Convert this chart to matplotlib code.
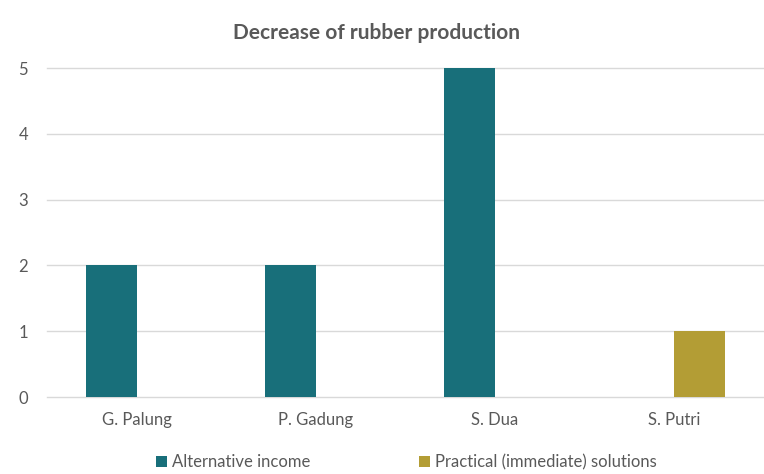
import matplotlib
matplotlib.use("Agg")
import matplotlib.pyplot as plt
import numpy as np

plt.rcParams['font.family'] = ['Lato', 'DejaVu Sans']

categories = ["G. Palung", "P. Gadung", "S. Dua", "S. Putri"]
series_names = ["Alternative income", "Practical (immediate) solutions"]
alt_income = [2, 2, 5, 0]
practical = [0, 0, 0, 1]
yticks = [0, 1, 2, 3, 4, 5]

colors = ["#186F7A", "#B39D35"]

fig = plt.figure(figsize=(7.64, 4.74), dpi=100)
ax = fig.add_axes([0.062, 0.1624, 0.937, 0.694])

x = np.arange(len(categories))
w = 1 / 3.5
ax.bar(x - w / 2, alt_income, w, color=colors[0], label=series_names[0], zorder=3)
ax.bar(x + w / 2, practical, w, color=colors[1], label=series_names[1], zorder=3)

ax.set_xlim(-0.5, len(categories) - 0.5)
ax.set_ylim(0, 5)
ax.set_yticks(yticks)
ax.set_xticks(x)
ax.set_xticklabels(categories)
for y in yticks:
    ax.axhline(y, color="#D9D9D9", lw=1, zorder=1, clip_on=False)
for s in ax.spines.values():
    s.set_visible(False)
ax.tick_params(axis='both', length=0, colors="#595959", labelsize=12)
ax.tick_params(axis='x', pad=11)
ax.tick_params(axis='y', pad=14)

fig.text(0.493, 0.93, "Decrease of rubber production", ha='center', va='center',
         fontsize=15, fontweight='bold', color="#595959")

leg = fig.legend(loc='center', bbox_to_anchor=(0.532, 0.025), ncol=2, frameon=False,
                 fontsize=12, handlelength=0.65, handleheight=0.65, handletextpad=0.3,
                 columnspacing=6.5, labelcolor="#595959")

fig.savefig("out.png", dpi=100)
